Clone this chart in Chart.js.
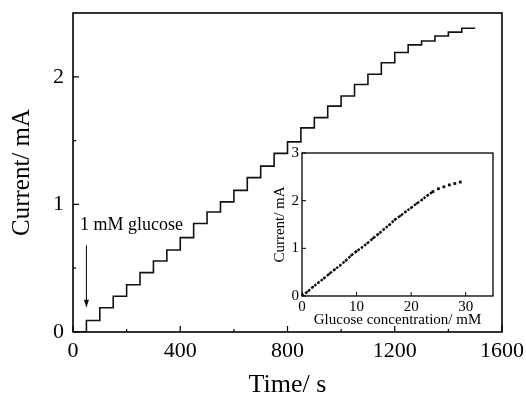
<!DOCTYPE html>
<html>
<head>
<meta charset="utf-8">
<script src="https://cdn.jsdelivr.net/npm/chart.js@4.4.1/dist/chart.umd.min.js"></script>
<style>
  html, body { margin: 0; padding: 0; background: #fff; }
  #wrap { position: relative; width: 526px; height: 398px; }
  #main { position: absolute; left: 0; top: 0; }
  #inset { position: absolute; left: 262px; top: 145px; }
</style>
</head>
<body>
<div id="wrap">
  <canvas id="main" width="526" height="398"></canvas>
  <canvas id="inset" width="240" height="186"></canvas>
</div>
<script>
// ---- Data ----
const times = [0, 50, 100, 150, 200, 250, 300, 350, 400, 450, 500, 550, 600, 650, 700, 750,
               800, 850, 900, 950, 1000, 1050, 1100, 1150, 1200, 1250, 1300, 1350, 1400, 1450, 1500];
const currents = [0, 0.09, 0.19, 0.28, 0.37, 0.465, 0.557, 0.643, 0.74, 0.85, 0.94, 1.02, 1.11, 1.21, 1.30, 1.40,
                  1.49, 1.60, 1.68, 1.77, 1.85, 1.94, 2.02, 2.11, 2.19, 2.25, 2.28, 2.32, 2.35, 2.38, 2.38];
const concentrations = [0, 1, 2, 3, 4, 5, 6, 7, 8, 9, 10, 11, 12, 13, 14, 15, 16, 17, 18, 19, 20,
                        21, 22, 23, 24, 25, 26, 27, 28, 29];
const insetCurrents = [0, 0.09, 0.19, 0.28, 0.37, 0.465, 0.557, 0.643, 0.74, 0.85, 0.94, 1.02, 1.11, 1.21, 1.30, 1.40,
                       1.49, 1.60, 1.68, 1.77, 1.85, 1.94, 2.02, 2.11, 2.19, 2.25, 2.29, 2.33, 2.36, 2.39];
const xTicksMain = [0, 400, 800, 1200, 1600];
const xMinorMain = [200, 600, 1000, 1400];
const yTicksMain = [0, 1, 2];
const yMinorMain = [0.5, 1.5];
const xTicksInset = [0, 10, 20, 30];
const yTicksInset = [0, 1, 2, 3];
const linearEndIndex = 24;

const SERIF = "'Liberation Serif', 'DejaVu Serif', serif";
const plainLabel = v => String(v);
function noPad(s) { s.paddingTop = 0; s.paddingBottom = 0; s.paddingLeft = 0; s.paddingRight = 0; }

function framePlugin(opts) {
  return {
    id: 'frame' + opts.id,
    afterDraw(chart) {
      const ctx = chart.ctx;
      const a = chart.chartArea;
      const xs = chart.scales.x, ys = chart.scales.y;
      ctx.save();
      ctx.strokeStyle = '#000';
      ctx.lineWidth = opts.lw;
      ctx.strokeRect(a.left, a.top, a.right - a.left, a.bottom - a.top);
      ctx.lineWidth = opts.tlw;
      ctx.beginPath();
      opts.xMajor.forEach(v => { const p = xs.getPixelForValue(v); ctx.moveTo(p, a.bottom); ctx.lineTo(p, a.bottom - opts.major); });
      opts.xMinor.forEach(v => { const p = xs.getPixelForValue(v); ctx.moveTo(p, a.bottom); ctx.lineTo(p, a.bottom - opts.minor); });
      opts.yMajor.forEach(v => { const p = ys.getPixelForValue(v); ctx.moveTo(a.left, p); ctx.lineTo(a.left + opts.major, p); });
      opts.yMinor.forEach(v => { const p = ys.getPixelForValue(v); ctx.moveTo(a.left, p); ctx.lineTo(a.left + opts.minor, p); });
      ctx.stroke();
      if (opts.annot) opts.annot(chart, ctx);
      ctx.restore();
    }
  };
}

// ---- Main chart ----
new Chart(document.getElementById('main'), {
  type: 'line',
  data: {
    datasets: [{
      data: times.map((t, i) => ({ x: t, y: currents[i] })),
      stepped: 'before',
      borderColor: '#111',
      borderWidth: 1.6,
      pointRadius: 0,
      fill: false
    }]
  },
  options: {
    responsive: false,
    animation: false,
    devicePixelRatio: 1,
    layout: { padding: { top: 13, right: 24, left: 0, bottom: 0 } },
    plugins: { legend: { display: false }, tooltip: { enabled: false } },
    scales: {
      x: {
        type: 'linear', min: 0, max: 1600,
        afterBuildTicks(s) { s.ticks = xTicksMain.map(v => ({ value: v })); },
        afterFit(s) { s.height = 66; noPad(s); },
        grid: { display: false, drawTicks: false }, border: { display: false },
        ticks: { color: '#000', font: { family: SERIF, size: 22 }, padding: 6, maxRotation: 0, autoSkip: false, callback: plainLabel },
        title: { display: true, text: 'Time/ s', color: '#000', font: { family: SERIF, size: 26, lineHeight: 1 }, padding: { top: 0, bottom: 0 } }
      },
      y: {
        type: 'linear', min: 0, max: 2.5,
        afterBuildTicks(s) { s.ticks = yTicksMain.map(v => ({ value: v })); },
        afterFit(s) { s.width = 73; noPad(s); },
        grid: { display: false, drawTicks: false }, border: { display: false },
        ticks: { color: '#000', font: { family: SERIF, size: 22 }, padding: 9, autoSkip: false, callback: plainLabel },
        title: { display: true, text: 'Current/ mA', color: '#000', font: { family: SERIF, size: 25, lineHeight: 1 }, padding: { top: 10, bottom: 0 } }
      }
    }
  },
  plugins: [framePlugin({
    id: 'main', lw: 1.6, tlw: 1.2, major: 6, minor: 3,
    xMajor: xTicksMain, xMinor: xMinorMain, yMajor: yTicksMain, yMinor: yMinorMain,
    annot(chart, ctx) {
      const xs = chart.scales.x, ys = chart.scales.y;
      const ax = xs.getPixelForValue(50);
      const y0 = ys.getPixelForValue(0.68), y1 = ys.getPixelForValue(0.19);
      ctx.strokeStyle = '#000'; ctx.fillStyle = '#000'; ctx.lineWidth = 1;
      ctx.beginPath(); ctx.moveTo(ax, y0); ctx.lineTo(ax, y1 - 6); ctx.stroke();
      ctx.beginPath(); ctx.moveTo(ax, y1); ctx.lineTo(ax - 2.5, y1 - 8); ctx.lineTo(ax + 2.5, y1 - 8); ctx.closePath(); ctx.fill();
      ctx.font = '18px ' + SERIF;
      ctx.textBaseline = 'middle'; ctx.textAlign = 'left';
      ctx.fillText('1 mM glucose', xs.getPixelForValue(26), ys.getPixelForValue(0.84));
    }
  })]
});

// ---- Inset chart ----
new Chart(document.getElementById('inset'), {
  type: 'line',
  data: {
    datasets: [{
      data: concentrations.map((c, i) => ({ x: c, y: insetCurrents[i] })),
      showLine: true,
      borderColor: '#111',
      borderWidth: 2.4,
      borderDash: [2.5, 1.5],
      segment: { borderColor: c => (c.p0DataIndex >= linearEndIndex ? 'rgba(0,0,0,0)' : '#111') },
      pointStyle: 'rect',
      pointRadius: c => (c.dataIndex >= linearEndIndex ? 2 : 1.4),
      pointBackgroundColor: '#111',
      pointBorderWidth: 0,
      fill: false
    }]
  },
  options: {
    responsive: false,
    animation: false,
    devicePixelRatio: 1,
    layout: { padding: { top: 8, right: 9, left: 0, bottom: 0 } },
    plugins: { legend: { display: false }, tooltip: { enabled: false } },
    scales: {
      x: {
        type: 'linear', min: 0, max: 35,
        afterBuildTicks(s) { s.ticks = xTicksInset.map(v => ({ value: v })); },
        afterFit(s) { s.height = 35; noPad(s); },
        grid: { display: false, drawTicks: false }, border: { display: false },
        ticks: { color: '#000', font: { family: SERIF, size: 15, lineHeight: 1 }, padding: 4, maxRotation: 0, autoSkip: false, callback: plainLabel },
        title: { display: true, text: 'Glucose concentration/ mM', color: '#000', font: { family: SERIF, size: 15, lineHeight: 1 }, padding: { top: 0, bottom: 3 } }
      },
      y: {
        type: 'linear', min: 0, max: 3,
        afterBuildTicks(s) { s.ticks = yTicksInset.map(v => ({ value: v })); },
        afterFit(s) { s.width = 40; noPad(s); },
        grid: { display: false, drawTicks: false }, border: { display: false },
        ticks: { color: '#000', font: { family: SERIF, size: 15 }, padding: 3, autoSkip: false, callback: plainLabel },
        title: { display: true, text: 'Current/ mA', color: '#000', font: { family: SERIF, size: 15, lineHeight: 1 }, padding: { top: 11, bottom: 0 } }
      }
    }
  },
  plugins: [framePlugin({
    id: 'inset', lw: 1.3, tlw: 1, major: 4, minor: 2,
    xMajor: xTicksInset, xMinor: [], yMajor: yTicksInset, yMinor: []
  })]
});
</script>
</body>
</html>
